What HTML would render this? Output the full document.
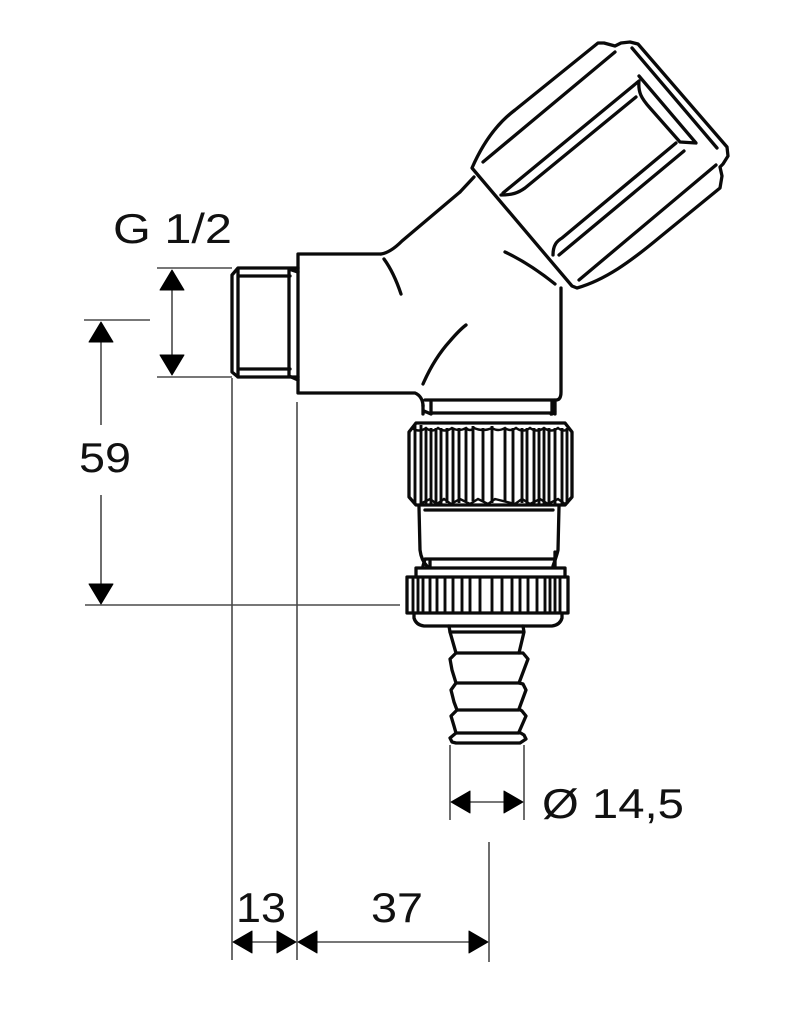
<!DOCTYPE html>
<html><head><meta charset="utf-8"><style>
html,body{margin:0;padding:0;background:#fff;width:809px;height:1024px;overflow:hidden}
svg{display:block}
.o{fill:none;stroke:#0a0a0a;stroke-width:3.3;stroke-linejoin:round;stroke-linecap:round}
.r{fill:none;stroke:#0a0a0a;stroke-width:2.9}
.s{fill:none;stroke:#0a0a0a;stroke-width:2.4}
.d{fill:none;stroke:#4a4a4a;stroke-width:1.6}
.a{fill:#000;stroke:#000;stroke-width:1;stroke-linejoin:round}
text{font-family:"Liberation Sans",sans-serif;font-size:42px;fill:#111}
</style></head><body>
<svg width="809" height="1024" viewBox="0 0 809 1024" xmlns="http://www.w3.org/2000/svg">
<!-- handle -->
<path class="o" d="M472 168 C482 145 495 125 515 110 L598 43 L604 43 L615 46 L621 43 L630 42 L638 44 L727 147 L728 156 L723 164 L720 167 L722 176 L720 188 L660 237 C630 262 605 280 577 288 L572 286 Z"/>
<path class="o" d="M483 162 L615 52"/>
<path class="o" d="M632 48 L717 148"/>
<path class="o" d="M579 280 L716 165"/>
<path class="o" d="M503 193 L639 81 C638 92 641 98 650 108 L680 142 L696 143 L639 76"/>
<path class="o" d="M501 195 C512 195 518 193 525 188 L636 97"/>
<path class="o" d="M553 255 C553 245 557 241 562 238 L676 143"/>
<path class="o" d="M559 255 L684 151"/>
<path class="o" d="M505 252 C522 260 540 272 555 284"/>
<!-- body -->
<path class="o" d="M460 192 L474 177"/>
<path class="o" d="M381 254 C388 253 395 248 402 241 L460 192"/>
<path class="o" d="M381 254 L298 254 L298 393 L415 393 C420 395 423 400 423 406"/>
<path class="o" d="M384 259 C392 270 397 282 401 294"/>
<path class="o" d="M423 384 C430 368 440 352 450 341 C456 334 462 328 466 325"/>
<path class="o" d="M561 288 L561 392 Q561 400 556 400 L425 400"/>
<path class="o" d="M423 405 L423 414 M430 413 L555 413 M555 400 L555 414 M431 402 L431 414 M552 402 L552 414 M424 411 L431 414 M555 411 L551 414"/>
<!-- thread -->
<path class="o" d="M298 268 L238 268 L232 275 L232 372 L238 377 L298 377"/>
<path class="o" d="M238 270 L238 377 M238 276 L290 276 M238 369 L290 369 M289 270 L289 376 M289 269 L298 272 M289 376 L298 380"/>
<!-- nut 1 -->
<path class="o" d="M416 423 L565 423 L572 432 L572 497 L565 505 L416 505 L409 497 L409 432 Z"/>
<path class="r" d="M415 425V504M421 425V504M426 428V504M431 428V504M436 428V504M441 428V504M447 428V503M453 428V503M459 428V503M466 428V501M473 426V501M483 428V501M492 426V503M505 428V501M513 428V503M522 428V503M527 428V504M534 428V504M539 428V504M544 428V504M549 428V504M555 428V504M562 428V504M567 428V504"/>
<path class="s" d="M412 428 Q419 433 426 428 Q432 433 438 428 Q445 433 452 428 Q459 432 466 428 Q470 432 474 428 Q483 432 492 428 Q498 432 505 428 Q510 432 516 428 Q523 433 530 428 Q537 433 544 428 Q551 433 558 428 Q564 433 570 428"/>
<path class="s" d="M420 504 L430 499 L437 504 L444 499 L451 504 L460 499 L470 504 L478 499 L488 504 L495 499 L515 504 L522 499 L530 504 L540 499 L548 504 L558 499 L565 504"/>
<!-- neck -->
<path class="o" d="M425 510 L553 510"/>
<path class="o" d="M419 507 L420 550 C421 558 424 563 427 566"/>
<path class="o" d="M559 507 L558 550 C557 555 555 560 553 566"/>
<path class="o" d="M425 559 L555 559 M425 559 L423 566 M430 561 L430 567 M555 552 L555 567"/>
<!-- nut 2 -->
<path class="o" d="M416 568 L565 568 L565 577 M416 568 L416 577"/>
<path class="o" d="M407 577 L568 577 L568 613 L407 613 Z"/>
<path class="r" d="M413 577V613M418 577V613M423 577V613M430 577V613M437 577V613M445 577V613M453 577V613M462 577V613M470 577V613M480 577V613M492 577V613M502 577V613M512 577V613M520 577V613M528 577V613M537 577V613M545 577V613M550 577V613M555 577V613M560 577V613"/>
<path class="o" d="M414 614 L414 618 Q416 625 424 626 L552 626 Q560 625 562 618 L562 614"/>
<!-- hose -->
<path class="o" d="M449 626 L450 632 L456 653 L450 659 L452 670 L456 683 L451 690 L454 702 L457 710 L451 716 L454 726 L456 733 L450 738 L452 742 L456 743 L520 743 L526 739 L524 735 L519 732 L526 716 L522 711 L519 709 L526 690 L523 684 L519 683 L528 659 L523 653 L519 653 L524 632 L523 626"/>
<path class="o" d="M450 632 L523 632 M456 653 L519 653 M456 683 L519 683 M457 710 L519 710 M456 733 L519 733"/>
<!-- dimension lines -->
<path class="d" d="M157 268H232M157 377H232M84 320H150M85 605H400"/>
<path class="d" d="M172 285V360M101 335V425M101 495V590"/>
<path class="d" d="M232 378V960M297 402V960M489 842V962M450 745V820M524 745V820"/>
<path class="d" d="M245 942H285M310 942H476M465 802H510"/>
<!-- arrowheads -->
<polygon class="a" points="172,270 184,290 160,290"/>
<polygon class="a" points="172,375 184,355 160,355"/>
<polygon class="a" points="101,322 113,342 89,342"/>
<polygon class="a" points="101,604 113,584 89,584"/>
<polygon class="a" points="233,942 252,931 252,953"/>
<polygon class="a" points="296,942 277,931 277,953"/>
<polygon class="a" points="298,942 317,931 317,953"/>
<polygon class="a" points="488,942 469,931 469,953"/>
<polygon class="a" points="451,802 470,791 470,813"/>
<polygon class="a" points="523,802 504,791 504,813"/>
<!-- labels -->
<text x="113" y="243" textLength="119" lengthAdjust="spacingAndGlyphs">G 1/2</text>
<text x="79" y="472" textLength="52" lengthAdjust="spacingAndGlyphs">59</text>
<text x="542" y="818" textLength="142" lengthAdjust="spacingAndGlyphs">Ø 14,5</text>
<text x="236" y="922" textLength="50" lengthAdjust="spacingAndGlyphs">13</text>
<text x="371" y="922" textLength="52" lengthAdjust="spacingAndGlyphs">37</text>
</svg>
</body></html>
